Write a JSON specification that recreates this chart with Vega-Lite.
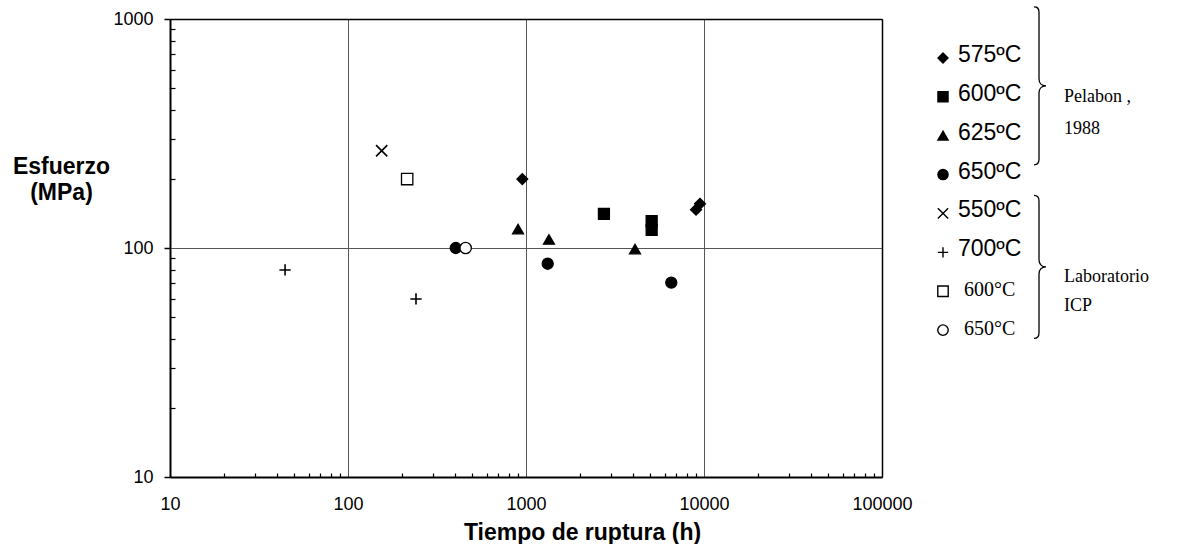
{
  "$schema": "https://vega.github.io/schema/vega-lite/v6.json",
  "background": "white",
  "padding": {"left": 12, "top": 4, "right": 0, "bottom": 0},
  "config": {
    "view": {"stroke": null},
    "font": "Liberation Sans",
    "axis": {"labelFont": "Liberation Sans", "titleFont": "Liberation Sans", "labelColor": "black", "titleColor": "black"}
  },
  "datasets": {
    "puntos": [
      {"t": 953, "s": 200, "serie": "575ºC", "fuente": "Pelabon"},
      {"t": 9020, "s": 147, "serie": "575ºC", "fuente": "Pelabon"},
      {"t": 9500, "s": 156, "serie": "575ºC", "fuente": "Pelabon"},
      {"t": 2740, "s": 141, "serie": "600ºC", "fuente": "Pelabon"},
      {"t": 5080, "s": 131, "serie": "600ºC", "fuente": "Pelabon"},
      {"t": 5080, "s": 120, "serie": "600ºC", "fuente": "Pelabon"},
      {"t": 902, "s": 121, "serie": "625ºC", "fuente": "Pelabon"},
      {"t": 1346, "s": 109, "serie": "625ºC", "fuente": "Pelabon"},
      {"t": 4096, "s": 99, "serie": "625ºC", "fuente": "Pelabon"},
      {"t": 403, "s": 100, "serie": "650ºC", "fuente": "Pelabon"},
      {"t": 1324, "s": 85.4, "serie": "650ºC", "fuente": "Pelabon"},
      {"t": 6550, "s": 70.6, "serie": "650ºC", "fuente": "Pelabon"},
      {"t": 154.6, "s": 266, "serie": "550ºC", "fuente": "ICP"},
      {"t": 44.3, "s": 80.2, "serie": "700ºC", "fuente": "ICP"},
      {"t": 241, "s": 59.9, "serie": "700ºC", "fuente": "ICP"},
      {"t": 215, "s": 200, "serie": "600°C", "fuente": "ICP abierto"},
      {"t": 458, "s": 100, "serie": "650°C", "fuente": "ICP abierto"}
    ],
    "leyenda": [
      {"serie": "575ºC", "letra": "sans"},
      {"serie": "600ºC", "letra": "sans"},
      {"serie": "625ºC", "letra": "sans"},
      {"serie": "650ºC", "letra": "sans"},
      {"serie": "550ºC", "letra": "sans"},
      {"serie": "700ºC", "letra": "sans"},
      {"serie": "600°C", "letra": "serif"},
      {"serie": "650°C", "letra": "serif"}
    ],
    "llaves": [
      {"serie": "600ºC", "grupo": "Pelabon ,|1988", "fuente": "Pelabon"},
      {"serie": "700ºC", "grupo": "Laboratorio|ICP", "fuente": "ICP"}
    ]
  },
  "spacing": 20,
  "resolve": {"scale": {"size": "independent"}},
  "hconcat": [
    {
      "width": 712,
      "height": 458,
      "resolve": {"axis": {"x": "independent", "y": "independent"}},
      "layer": [
        {
          "data": {"name": "puntos"},
          "transform": [{"filter": "datum.fuente === 'Pelabon'"}],
          "mark": {"type": "point", "stroke": "black", "strokeWidth": 1.2, "opacity": 1},
          "encoding": {
            "x": {
              "field": "t", "type": "quantitative",
              "scale": {"type": "log", "domain": [10, 100000], "nice": false},
              "axis": {
                "orient": "bottom", "values": [10, 100, 1000, 10000, 100000], "format": "d",
                "labelFontSize": 18, "labelPadding": 18, "labelFlush": false, "labelOverlap": false,
                "ticks": false, "domain": true, "domainColor": "black", "domainWidth": 2,
                "grid": true, "gridColor": "#555555", "gridWidth": 1,
                "title": "Tiempo de ruptura  (h)", "titleFontSize": 23, "titleFontWeight": "bold",
                "titleX": 412, "titleY": 62, "titleBaseline": "alphabetic", "titleAlign": "center", "titleAngle": 0
              }
            },
            "y": {
              "field": "s", "type": "quantitative",
              "scale": {"type": "log", "domain": [10, 1000], "nice": false},
              "axis": {
                "orient": "left", "values": [10, 100, 1000], "format": "d",
                "labelFontSize": 18, "labelPadding": 11, "labelFlush": false, "labelOverlap": false,
                "ticks": true, "tickSize": 6, "tickColor": "black", "tickWidth": 1.5,
                "domain": true, "domainColor": "black", "domainWidth": 2,
                "grid": true, "gridColor": "#555555", "gridWidth": 1,
                "title": ["Esfuerzo", "(MPa)"], "titleFontSize": 23, "titleFontWeight": "bold",
                "titleAngle": 0, "titleX": -109, "titleY": 154, "titleAlign": "center",
                "titleBaseline": "alphabetic", "titleLineHeight": 26
              }
            },
            "shape": {
              "field": "serie", "type": "nominal", "legend": null,
              "scale": {
                "domain": ["575ºC", "600ºC", "625ºC", "650ºC", "550ºC", "700ºC", "600°C", "650°C"],
                "range": ["diamond", "square", "triangle-up", "circle", "M-1,-1L1,1M-1,1L1,-1", "M-1,0L1,0M0,-1L0,1", "square", "circle"]
              }
            },
            "fill": {
              "field": "serie", "type": "nominal", "legend": null,
              "scale": {
                "domain": ["575ºC", "600ºC", "625ºC", "650ºC", "550ºC", "700ºC", "600°C", "650°C"],
                "range": ["black", "black", "black", "black", "transparent", "transparent", "white", "white"]
              }
            },
            "size": {
              "field": "serie", "type": "nominal", "legend": null,
              "scale": {
                "domain": ["575ºC", "600ºC", "625ºC", "650ºC", "550ºC", "700ºC", "600°C", "650°C"],
                "range": [121, 130, 150, 144, 180, 300, 121, 121]
              }
            }
          }
        },
        {
          "data": {"name": "puntos"},
          "transform": [{"filter": "datum.fuente === 'ICP'"}],
          "mark": {"type": "point", "stroke": "black", "strokeWidth": 1.6, "opacity": 1},
          "encoding": {
            "x": {
              "field": "t", "type": "quantitative",
              "axis": {
                "orient": "bottom", "offset": -4,
                "values": [20, 30, 40, 50, 60, 70, 80, 90, 200, 300, 400, 500, 600, 700, 800, 900, 2000, 3000, 4000, 5000, 6000, 7000, 8000, 9000, 20000, 30000, 40000, 50000, 60000, 70000, 80000, 90000],
                "labels": false, "domain": false, "grid": false, "ticks": true,
                "tickSize": 4, "tickColor": "black", "tickWidth": 1.2, "title": null, "minExtent": 0
              }
            },
            "y": {
              "field": "s", "type": "quantitative",
              "axis": {
                "orient": "left", "offset": -5,
                "values": [20, 30, 40, 50, 60, 70, 80, 90, 200, 300, 400, 500, 600, 700, 800, 900],
                "labels": false, "domain": false, "grid": false, "ticks": true,
                "tickSize": 5, "tickColor": "black", "tickWidth": 1.2, "title": null, "minExtent": 0
              }
            },
            "shape": {"field": "serie", "type": "nominal", "legend": null},
            "fill": {"field": "serie", "type": "nominal", "legend": null},
            "size": {"field": "serie", "type": "nominal", "legend": null}
          }
        },
        {
          "data": {"name": "puntos"},
          "transform": [{"filter": "datum.fuente === 'ICP abierto'"}],
          "mark": {"type": "point", "stroke": "black", "strokeWidth": 1.3, "opacity": 1},
          "encoding": {
            "x": {
              "field": "t", "type": "quantitative",
              "axis": {
                "orient": "top", "labels": false, "ticks": false, "grid": false,
                "domain": true, "domainColor": "black", "domainWidth": 1.5, "title": null, "zindex": 1,
                "minExtent": 0, "maxExtent": 0
              }
            },
            "y": {
              "field": "s", "type": "quantitative",
              "axis": {
                "orient": "right", "labels": false, "ticks": false, "grid": false,
                "domain": true, "domainColor": "black", "domainWidth": 1.5, "title": null, "zindex": 1,
                "minExtent": 0, "maxExtent": 0
              }
            },
            "shape": {"field": "serie", "type": "nominal", "legend": null},
            "fill": {"field": "serie", "type": "nominal", "legend": null},
            "size": {"field": "serie", "type": "nominal", "legend": null}
          }
        }
      ]
    },
    {
      "width": 20,
      "height": 350,
      "view": {"stroke": null},
      "encoding": {
        "y": {
          "field": "serie", "type": "nominal", "axis": null,
          "scale": {"type": "point", "padding": 1.07, "domain": ["575ºC", "600ºC", "625ºC", "650ºC", "550ºC", "700ºC", "600°C", "650°C"]}
        }
      },
      "layer": [
        {
          "data": {"name": "leyenda"},
          "mark": {"type": "point", "stroke": "black", "strokeWidth": 1.4, "opacity": 1},
          "encoding": {
            "shape": {"field": "serie", "type": "nominal", "legend": null},
            "fill": {"field": "serie", "type": "nominal", "legend": null},
            "size": {
              "field": "serie", "type": "nominal", "legend": null,
              "scale": {
                "domain": ["575ºC", "600ºC", "625ºC", "650ºC", "550ºC", "700ºC", "600°C", "650°C"],
                "range": [100, 110, 125, 130, 130, 180, 45, 45]
              }
            }
          }
        },
        {
          "data": {"name": "leyenda"},
          "transform": [{"filter": "datum.letra === 'sans'"}],
          "mark": {"type": "text", "align": "left", "baseline": "middle", "dx": 15, "dy": -3, "fontSize": 23, "font": "Liberation Sans", "fill": "black"},
          "encoding": {"text": {"field": "serie", "type": "nominal"}}
        },
        {
          "data": {"name": "leyenda"},
          "transform": [{"filter": "datum.letra === 'serif'"}],
          "mark": {"type": "text", "align": "left", "baseline": "middle", "dx": 21, "dy": -1, "fontSize": 20, "font": "Liberation Serif", "fill": "black"},
          "encoding": {"text": {"field": "serie", "type": "nominal"}}
        },
        {
          "data": {"name": "llaves"},
          "transform": [{"filter": "datum.fuente === 'Pelabon'"}],
          "mark": {
            "type": "point", "filled": false, "stroke": "black", "strokeWidth": 1.3, "opacity": 1,
            "shape": "M-0.063,-1C-0.02,-1 0,-0.98 0,-0.93L0,-0.09C0,-0.04 0.03,0 0.089,0C0.03,0 0,0.04 0,0.09L0,0.93C0,0.98 -0.02,1 -0.063,1",
            "size": 24964, "xOffset": 96, "yOffset": -11
          },
          "encoding": {}
        },
        {
          "data": {"name": "llaves"},
          "transform": [{"filter": "datum.fuente === 'ICP'"}],
          "mark": {
            "type": "point", "filled": false, "stroke": "black", "strokeWidth": 1.3, "opacity": 1,
            "shape": "M-0.07,-1C-0.022,-1 0,-0.978 0,-0.92L0,-0.1C0,-0.045 0.033,0 0.098,0C0.033,0 0,0.045 0,0.1L0,0.92C0,0.978 -0.022,1 -0.07,1",
            "size": 20449, "xOffset": 96, "yOffset": 14.6
          },
          "encoding": {}
        },
        {
          "data": {"name": "llaves"},
          "transform": [{"filter": "datum.fuente === 'Pelabon'"}],
          "mark": {"type": "text", "align": "left", "baseline": "middle", "dx": 121, "dy": 0, "fontSize": 18, "font": "Liberation Serif", "lineBreak": "|", "lineHeight": 32, "fill": "black"},
          "encoding": {"text": {"field": "grupo", "type": "nominal"}}
        },
        {
          "data": {"name": "llaves"},
          "transform": [{"filter": "datum.fuente === 'ICP'"}],
          "mark": {"type": "text", "align": "left", "baseline": "middle", "dx": 121, "dy": 25, "fontSize": 18, "font": "Liberation Serif", "lineBreak": "|", "lineHeight": 29, "fill": "black"},
          "encoding": {"text": {"field": "grupo", "type": "nominal"}}
        }
      ]
    }
  ]
}
